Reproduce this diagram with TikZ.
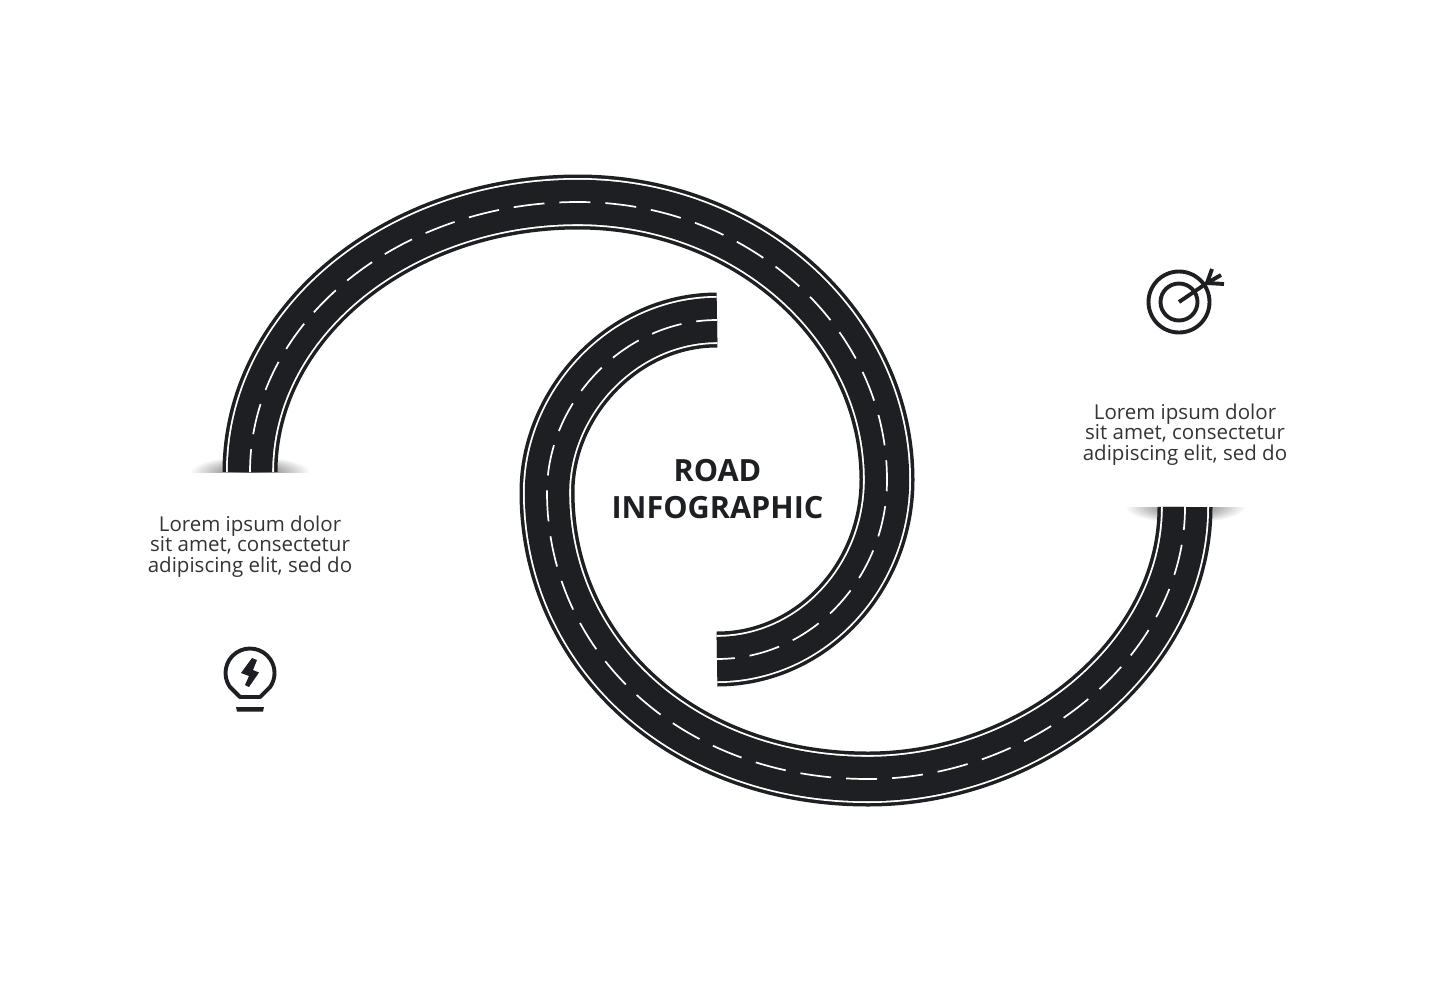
\documentclass[tikz,border=0pt]{standalone}
\usepackage{fontspec}
\setmainfont{Open Sans}
\tikzset{
  roadbase/.style={line width=55pt,draw=roadblack},
  roadedge/.style={line width=48pt,draw=white},
  roadlane/.style={line width=44.4pt,draw=roadblack},
  roadmark/.style={line width=1.7pt,draw=white,dash pattern=on 31pt off 15pt},
  bodytext/.style={align=center,font=\fontsize{20.5}{20.5}\selectfont,text=textgrey,inner sep=0pt},
  icon/.style={line width=3.9pt,draw=roadblack}
}
\definecolor{roadblack}{HTML}{1E1F22}
\definecolor{textgrey}{HTML}{333436}
\newcommand{\roadcurve}[2]{
  \path[roadbase] #2;
  \path[roadedge] #2;
  \path[roadlane] #2;
  \path[roadmark,dash phase=#1] #2;
}
\begin{document}
\begin{tikzpicture}[x=1pt,y=-1pt]
  \useasboundingbox[fill=white] (0,0) rectangle (1435,980);

  %shadows
  \begin{scope}
    \clip (180,450) rectangle (320,472);
    \shade[inner color=black!65,outer color=white] (250,472) ellipse (60 and 16);
  \end{scope}
  \begin{scope}
    \clip (1115,507) rectangle (1255,530);
    \shade[inner color=black!65,outer color=white] (1185,507) ellipse (60 and 16);
  \end{scope}

  %roads
  \roadcurve{8pt}{(250,472) .. controls (250,323) and (398,202) .. (578,202)
    .. controls (748,202) and (887,327) .. (887,480)
    .. controls (887,578) and (811,659) .. (717,659)}
  \roadcurve{8pt}{(1185,507) .. controls (1185,656) and (1033,779) .. (868,779)
    .. controls (683,779) and (547,654) .. (547,492)
    .. controls (547,403) and (623,320) .. (717,320)}

  %title
  \node[align=center,font=\fontsize{30.6}{36.5}\bfseries\selectfont,text=roadblack,inner sep=0pt] (title) at (717.5,489) {ROAD\\INFOGRAPHIC};

  %texts
  \node[bodytext] (leftnote) at (250,546.5) {Lorem ipsum dolor\\sit amet, consectetur\\adipiscing elit, sed do};
  \node[bodytext] (rightnote) at (1185,434.5) {Lorem ipsum dolor\\sit amet, consectetur\\adipiscing elit, sed do};

  %bulb
  \draw[icon,line join=round] (240,697) -- (229.7,686.7) arc (146:394:24.5) -- (260,697) -- cycle;
  \fill[roadblack] (236,707) -- (264,707) -- (263,711.5) -- (237,711.5) -- cycle;
  \fill[roadblack] (252,658) -- (257,660) -- (253,670) -- (259,672.5) -- (249,687) -- (245,685) -- (249,676) -- (241,673) -- cycle;

  %target
  \draw[icon] (1179,302) circle (30.5);
  \draw[icon] (1179,302) circle (18.5);
  \draw[icon] (1179,302) -- (1207,283);
  \draw[icon] (1207,283) -- (1212,269);
  \draw[icon] (1207,283) -- (1221,275);
  \draw[icon] (1207,283) -- (1224,284);
\end{tikzpicture}
\end{document}
